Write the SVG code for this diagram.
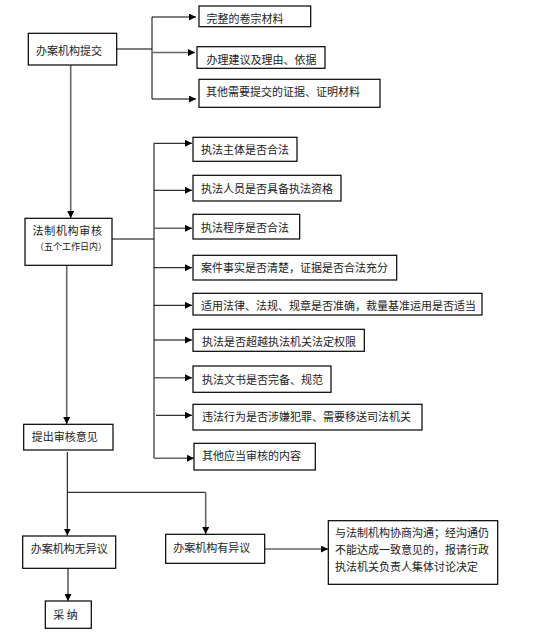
<svg xmlns="http://www.w3.org/2000/svg" width="534" height="643" viewBox="0 0 534 643">
<style>
.box{fill:#fff;stroke:#000;stroke-width:1.2}
.t{font-family:"Noto Sans CJK SC","Liberation Serif",serif;font-size:11px;fill:#222;dominant-baseline:central}
.s{font-size:9px}
.ln{fill:none;stroke:#000;stroke-width:1}
.g{stroke:#666;stroke-width:1.6}
</style>
<defs>
<marker id="ah" viewBox="0 0 8 8" refX="8" refY="4" markerWidth="7" markerHeight="7" markerUnits="userSpaceOnUse" orient="auto">
<path d="M0,0 L8,4 L0,8 Z" fill="#000"/>
</marker>
</defs>
<rect width="534" height="643" fill="#fff"/>
<g id="connectors">
<path class="ln" d="M117,49 H152"/>
<path class="ln" d="M152,17 V99"/>
<path class="ln" d="M152,17 H196" marker-end="url(#ah)"/>
<path class="ln g" d="M152,52.5 H195" marker-end="url(#ah)"/>
<path class="ln" d="M152,99 H196" marker-end="url(#ah)"/>
<path class="ln g" d="M70.7,65 V218" marker-end="url(#ah)"/>
<path class="ln" d="M112,239 H154"/>
<path class="ln" d="M154,143.3 V458.3"/>
<path class="ln" d="M154,143.3 H192" marker-end="url(#ah)"/>
<path class="ln" d="M154,190.3 H192" marker-end="url(#ah)"/>
<path class="ln g" d="M154,228.3 H192" marker-end="url(#ah)"/>
<path class="ln" d="M154,267.7 H192" marker-end="url(#ah)"/>
<path class="ln" d="M154,305.3 H192" marker-end="url(#ah)"/>
<path class="ln" d="M154,340 H192" marker-end="url(#ah)"/>
<path class="ln g" d="M154,377.7 H192" marker-end="url(#ah)"/>
<path class="ln" d="M156,415.3 H192" marker-end="url(#ah)"/>
<path class="ln g" d="M154,458.3 H194" marker-end="url(#ah)"/>
<path class="ln g" d="M66.7,265 V424" marker-end="url(#ah)"/>
<path class="ln" d="M67.3,452 V535.5" marker-end="url(#ah)"/>
<path class="ln" d="M67.3,492.3 H205.7"/>
<path class="ln g" d="M205.7,492.3 V534" marker-end="url(#ah)"/>
<path class="ln g" d="M265,549 H328" marker-end="url(#ah)"/>
<path class="ln" d="M68,568.3 V601" marker-end="url(#ah)"/>
</g>
<g id="n1"><rect class="box" x="28.3" y="33.3" width="88.4" height="31.7"/><text class="t" x="36" y="50">办案机构提交</text></g>
<g id="n2"><rect class="box" x="199" y="6" width="111.7" height="20.7"/><text class="t" x="206.5" y="18.3">完整的卷宗材料</text></g>
<g id="n3"><rect class="box" x="197" y="46.7" width="128" height="21.6"/><text class="t" x="206.5" y="59.3">办理建议及理由、依据</text></g>
<g id="n4"><rect class="box" x="199" y="79.3" width="181" height="28"/><text class="t" x="206" y="90.7">其他需要提交的证据、证明材料</text></g>
<g id="n5"><rect class="box" x="25" y="218.3" width="87" height="47"/><text class="t" x="32.5" y="230" letter-spacing="0.7">法制机构审核</text><text class="t s" x="35" y="246.7">（五个工作日内）</text></g>
<g id="n6"><rect class="box" x="193" y="137.3" width="104" height="24"/><text class="t" x="201" y="149.3">执法主体是否合法</text></g>
<g id="n7"><rect class="box" x="193" y="175.3" width="148" height="25.7"/><text class="t" x="201" y="187.7">执法人员是否具备执法资格</text></g>
<g id="n8"><rect class="box" x="193" y="214.3" width="106.7" height="24.7"/><text class="t" x="201" y="226.7">执法程序是否合法</text></g>
<g id="n9"><rect class="box" x="193" y="255.3" width="203.7" height="24.7"/><text class="t" x="201" y="266.7">案件事实是否清楚，证据是否合法充分</text></g>
<g id="n10"><rect class="box" x="193" y="293.3" width="289" height="21.7"/><text class="t" x="201" y="305">适用法律、法规、规章是否准确，裁量基准运用是否适当</text></g>
<g id="n11"><rect class="box" x="193" y="329.3" width="171.3" height="22"/><text class="t" x="202" y="341">执法是否超越执法机关法定权限</text></g>
<g id="n12"><rect class="box" x="193" y="366" width="138" height="26.3"/><text class="t" x="202" y="378.7">执法文书是否完备、规范</text></g>
<g id="n13"><rect class="box" x="193" y="404.3" width="229" height="25.7"/><text class="t" x="202" y="416">违法行为是否涉嫌犯罪、需要移送司法机关</text></g>
<g id="n14"><rect class="box" x="194" y="443.3" width="121.3" height="26.7"/><text class="t" x="202" y="455.3">其他应当审核的内容</text></g>
<g id="n15"><rect class="box" x="23.7" y="424.3" width="89.3" height="25.7"/><text class="t" x="31.7" y="436">提出审核意见</text></g>
<g id="n16"><rect class="box" x="22.7" y="536" width="93" height="32.3"/><text class="t" x="30.7" y="548.3">办案机构无异议</text></g>
<g id="n17"><rect class="box" x="165.7" y="534.3" width="99" height="29"/><text class="t" x="173.3" y="546.7">办案机构有异议</text></g>
<g id="n18"><rect class="box" x="328.3" y="520.7" width="169.4" height="63.6"/><text class="t" x="335" y="532.3">与法制机构协商沟通；经沟通仍</text><text class="t" x="335" y="549">不能达成一致意见的，报请行政</text><text class="t" x="335" y="565.7">执法机关负责人集体讨论决定</text></g>
<g id="n19"><rect class="box" x="45.3" y="601" width="46" height="27.3"/><text class="t" x="53.3" y="614">采 纳</text></g>
</svg>
